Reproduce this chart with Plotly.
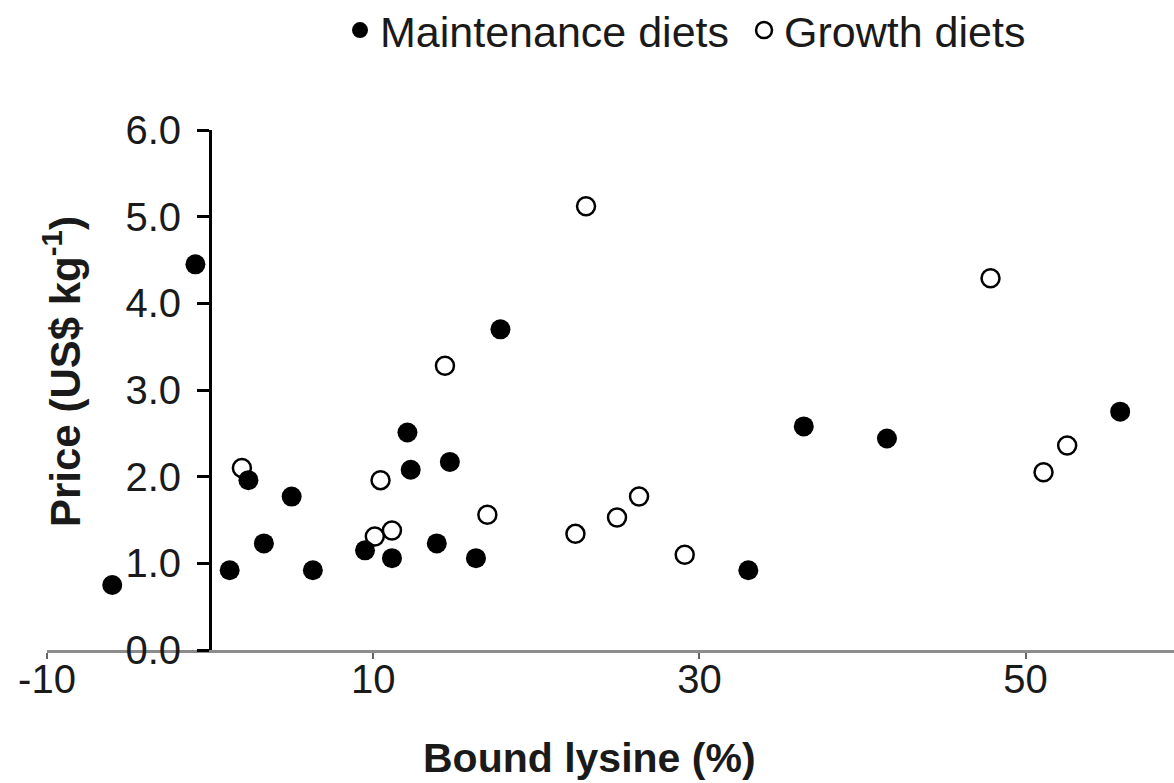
import plotly.graph_objects as go

# Bound lysine (%) and price (US$ per kg) for each diet group
maint_lysine = [-6.0, -0.9, 1.2, 2.35, 3.3, 5.0, 6.3, 9.5, 11.15, 12.3, 12.1,
                13.9, 14.7, 16.3, 17.8, 33.0, 36.4, 41.5, 55.8]
maint_price = [0.75, 4.45, 0.92, 1.96, 1.23, 1.77, 0.92, 1.15, 1.06, 2.08, 2.51,
               1.23, 2.17, 1.06, 3.70, 0.92, 2.58, 2.44, 2.75]

growth_lysine = [1.95, 10.1, 10.45, 11.15, 14.4, 17.0, 22.4, 23.05, 24.95, 26.3,
                 29.1, 47.85, 51.1, 52.55]
growth_price = [2.10, 1.31, 1.96, 1.38, 3.28, 1.56, 1.34, 5.12, 1.53, 1.77,
                1.10, 4.29, 2.05, 2.36]

x_ticks = [-10, 10, 30, 50]
x_ticktext = ["-10", "10", "30", "50"]
y_ticks = [0, 1, 2, 3, 4, 5, 6]
y_ticktext = ["0.0", "1.0", "2.0", "3.0", "4.0", "5.0", "6.0"]

X_MIN, X_MAX = -10, 59.1
FONT = "Liberation Sans, Arial, sans-serif"

fig = go.Figure()

# open circles drawn first so filled markers sit on top
fig.add_trace(go.Scatter(
    x=growth_lysine, y=growth_price, mode="markers", name="Growth diets",
    legendrank=2,
    marker=dict(symbol="circle", size=18, color="white",
                line=dict(color="black", width=2.5)),
    cliponaxis=False,
))
fig.add_trace(go.Scatter(
    x=maint_lysine, y=maint_price, mode="markers", name="Maintenance diets",
    legendrank=1,
    marker=dict(symbol="circle", size=20, color="black",
                line=dict(color="black", width=0)),
    cliponaxis=False,
))

fig.update_layout(
    width=1174, height=783, autosize=False,
    margin=dict(l=47, r=0, t=130, b=133, autoexpand=False),
    paper_bgcolor="white", plot_bgcolor="white",
    font=dict(family=FONT, color="#1a1a1a"),
    showlegend=True,
    legend=dict(
        orientation="h", x=0.26, xanchor="left", y=1.192, yanchor="middle",
        font=dict(family=FONT, size=43, color="#1a1a1a"),
        bgcolor="rgba(0,0,0,0)", itemsizing="trace",
        entrywidth=359, entrywidthmode="pixels",
    ),
    xaxis=dict(
        range=[X_MIN, X_MAX], domain=[0, 1], anchor="y",
        showline=True, linecolor="#8c8c8c", linewidth=3,
        ticks="outside", tickvals=x_ticks, ticktext=x_ticktext,
        ticklen=6, tickwidth=2, tickcolor="#666666", ticklabelstandoff=-14,
        showgrid=False, zeroline=False, automargin=False,
        tickfont=dict(family=FONT, size=40, color="#1a1a1a"),
    ),
    yaxis=dict(
        range=[0, 6], anchor="free",
        position=(0 - X_MIN) / (X_MAX - X_MIN),
        showline=True, linecolor="black", linewidth=3,
        ticks="outside", tickvals=y_ticks, ticktext=y_ticktext,
        ticklen=12, tickwidth=3, tickcolor="black", ticklabelstandoff=8,
        showgrid=False, zeroline=False, automargin=False,
        tickfont=dict(family=FONT, size=40, color="#1a1a1a"),
    ),
    annotations=[
        dict(text="<b>Bound lysine (%)</b>", xref="paper", yref="paper",
             x=0.4818, y=-0.255, xanchor="center", yanchor="bottom",
             showarrow=False, font=dict(family=FONT, size=41, color="#1a1a1a")),
        dict(text="<b>Price (US$ kg<sup>-1</sup>)</b>", xref="paper", yref="paper",
             x=0.0135, y=0.535, xanchor="center", yanchor="middle", textangle=-90,
             showarrow=False, font=dict(family=FONT, size=42, color="#1a1a1a")),
    ],
)

fig.write_html("out.html")
